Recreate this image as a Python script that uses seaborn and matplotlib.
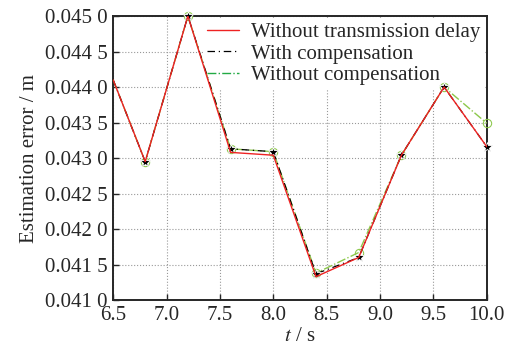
import matplotlib
matplotlib.use("Agg")
import matplotlib.pyplot as plt
from matplotlib.ticker import FuncFormatter
import seaborn as sns
import pandas as pd

# Data
t = [6.5, 6.8, 7.2, 7.6, 8.0, 8.4, 8.8, 9.2, 9.6, 10.0]
no_delay = [0.04410, 0.04295, 0.04500, 0.04308, 0.04304, 0.04133, 0.04160, 0.04304, 0.04400, 0.04316]
with_comp = [0.04410, 0.04295, 0.04500, 0.04313, 0.04309, 0.04137, 0.04160, 0.04304, 0.04400, 0.04316]
without_comp = [0.04410, 0.04295, 0.04500, 0.04313, 0.04309, 0.04138, 0.04167, 0.04304, 0.04400, 0.04349]

x_ticks = [6.5, 7.0, 7.5, 8.0, 8.5, 9.0, 9.5, 10.0]
y_ticks = [0.0410, 0.0415, 0.0420, 0.0425, 0.0430, 0.0435, 0.0440, 0.0445, 0.0450]

sns.set_style("ticks")
plt.rcParams["font.family"] = ["Liberation Serif", "DejaVu Serif"]
plt.rcParams["mathtext.fontset"] = "stix"

df = pd.DataFrame({"t": t, "no_delay": no_delay, "with_comp": with_comp,
                   "without_comp": without_comp})

fig, ax = plt.subplots(figsize=(5.24, 3.56), dpi=100)

# first sample sits on the axis edge without a marker in the reference
marks = list(range(1, len(t)))

sns.lineplot(data=df, x="t", y="without_comp", ax=ax, color="#8cc84b",
             linestyle="-.", linewidth=1.0, marker="o", markersize=6,
             markevery=marks, markerfacecolor="none", markeredgecolor="#8cc84b",
             label="Without compensation", zorder=5, clip_on=False)
sns.lineplot(data=df, x="t", y="with_comp", ax=ax, color="black",
             linestyle=(0, (6, 3, 1, 3)), linewidth=0.9, marker="*", markersize=7.5,
             markevery=marks, markeredgewidth=0.6, label="With compensation",
             zorder=6, clip_on=False)
sns.lineplot(data=df, x="t", y="no_delay", ax=ax, color="#ee2222",
             linewidth=1.0, label="Without transmission delay", zorder=7)

ax.set_xlim(6.5, 10.0)
ax.set_ylim(0.0410, 0.0450)
ax.set_xticks(x_ticks)
ax.set_yticks(y_ticks)
ax.xaxis.set_major_formatter(FuncFormatter(lambda v, p: f"{v:.1f}"))
ax.yaxis.set_major_formatter(FuncFormatter(lambda v, p: f"{v:.4f}"[:-1] + " " + f"{v:.4f}"[-1]))
ax.tick_params(direction="in", length=4, width=1, labelsize=15, pad=4)
ax.grid(True, linestyle=":", color="#999999", linewidth=0.8)
for s in ax.spines.values():
    s.set_linewidth(1.4)

ax.set_xlabel("$t$ / s", fontsize=15, labelpad=2)
ax.set_ylabel("Estimation error / m", fontsize=15, labelpad=4)

# legend order as in the reference
handles, labels = ax.get_legend_handles_labels()
order = [2, 1, 0]
leg = ax.legend([handles[i] for i in order], [labels[i] for i in order],
                loc="upper right", fontsize=15, frameon=True, fancybox=False,
                framealpha=1.0, edgecolor="none", borderaxespad=0.1,
                handlelength=1.5, handletextpad=0.6, labelspacing=0.1,
                borderpad=0.2)
leg.set_zorder(4)
for h in leg.legend_handles:
    h.set_marker("")
leg.legend_handles[2].set_color("#22aa44")

fig.subplots_adjust(left=0.216, right=0.929, top=0.955, bottom=0.157)
fig.savefig("out.png", dpi=100)
